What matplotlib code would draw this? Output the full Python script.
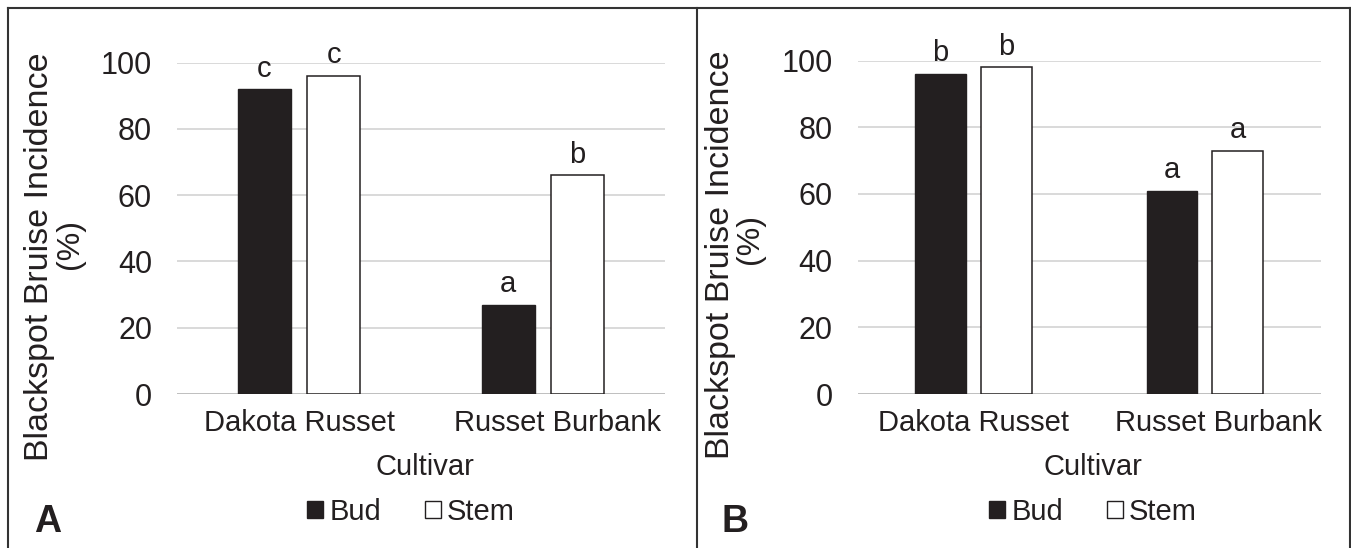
import numpy as np
import matplotlib
matplotlib.use("Agg")
import matplotlib.pyplot as plt
import matplotlib.transforms as mtransforms
from matplotlib.lines import Line2D
from matplotlib.patches import Patch

W, H = 1351, 548

cultivars = ["Dakota Russet", "Russet Burbank"]
series = ["Bud", "Stem"]

# panel A and B values (%)
bud_a = [92, 27]
stem_a = [96, 66]
letters_bud_a = ["c", "a"]
letters_stem_a = ["c", "b"]

bud_b = [96, 61]
stem_b = [98, 73]
letters_bud_b = ["b", "a"]
letters_stem_b = ["b", "a"]

yticks = [0, 20, 40, 60, 80, 100]

DARK = "#231f20"
GRID = "#d9d9d9"

plt.rcParams["font.family"] = ["Liberation Sans", "DejaVu Sans"]


def fx(x):
    return x / W


def fy(y):
    return 1 - y / H


def make_axes(fig, left, right, top, bottom):
    return fig.add_axes([fx(left), fy(bottom), (right - left) / W, (bottom - top) / H])


def draw_panel(ax, bud, stem, lb, ls):
    x = np.arange(len(cultivars))
    width = 0.22
    off = 0.142
    for yv in yticks:
        ax.axhline(yv, color="#bfbfbf" if yv == 0 else GRID, lw=1.4, zorder=0)
    b1 = ax.bar(x - off, bud, width, color=DARK, edgecolor=DARK, lw=1.0, zorder=2)
    b2 = ax.bar(x + off, stem, width, color="white", edgecolor=DARK, lw=1.1, zorder=2)
    for bars, labs in ((b1, lb), (b2, ls)):
        for rect, lab in zip(bars, labs):
            ax.annotate(lab, (rect.get_x() + rect.get_width() / 2, rect.get_height()),
                        xytext=(0, 9), textcoords="offset points",
                        ha="center", va="baseline", fontsize=21, color=DARK,
                        annotation_clip=False)
    ax.set_xlim(-0.5, len(cultivars) - 0.5)
    ax.set_ylim(0, 100)
    ax.set_yticks(yticks)
    ax.set_xticks(x)
    ax.set_xticklabels(cultivars, fontsize=21)
    ax.tick_params(axis="y", length=0, pad=18, labelsize=22, colors=DARK)
    ax.tick_params(axis="x", length=0, pad=11, colors=DARK)
    for s in ax.spines.values():
        s.set_visible(False)
    # second category label sits a bit right of centre in the original
    lab = ax.get_xticklabels()[1]
    lab.set_transform(lab.get_transform() + mtransforms.ScaledTranslation(0.14, 0, ax.figure.dpi_scale_trans))


fig = plt.figure(figsize=(W / 100, H / 100), dpi=100)

ax_a = make_axes(fig, 177, 665, 62.6, 394)
draw_panel(ax_a, bud_a, stem_a, letters_bud_a, letters_stem_a)
ax_b = make_axes(fig, 857.6, 1320.6, 60.5, 394)
draw_panel(ax_b, bud_b, stem_b, letters_bud_b, letters_stem_b)

# axis titles, panel letters and legends
for (yl1x, yl1y, yl2x, yl2y, cx, legx, px, plab) in [
    (48, 257, 78, 244, 425, 411, 48, "A"),
    (729, 255, 758, 239, 1093, 1093, 735, "B"),
]:
    fig.text(fx(yl1x), fy(yl1y), "Blackspot Bruise Incidence", rotation=90,
             rotation_mode="anchor", ha="center", va="baseline", fontsize=24.5, color=DARK)
    fig.text(fx(yl2x), fy(yl2y), "(%)", rotation=90,
             rotation_mode="anchor", ha="center", va="baseline", fontsize=23, color=DARK)
    fig.text(fx(cx), fy(475), "Cultivar", ha="center", va="baseline", fontsize=21, color=DARK)
    fig.text(fx(px), fy(531.5), plab, ha="center", va="baseline",
             fontsize=27, fontweight="bold", color=DARK)
    handles = [Patch(facecolor=DARK, edgecolor=DARK, lw=1.0),
               Patch(facecolor="white", edgecolor=DARK, lw=1.0)]
    fig.legend(handles, series, loc="center", bbox_to_anchor=(fx(legx), fy(512)),
               ncol=2, frameon=False, fontsize=21, handlelength=0.55, handleheight=0.55,
               handletextpad=0.2, columnspacing=1.5, borderpad=0, labelcolor=DARK)

# frame lines round the two panels
for xs, ys in [((8, 1350), (8, 8)), ((8, 8), (8, 548)),
               ((696.5, 696.5), (8, 548)), ((1349.5, 1349.5), (8, 548))]:
    fig.add_artist(Line2D([fx(v) for v in xs], [fy(v) for v in ys], color="#333333", lw=1.5))

fig.savefig("out.png", dpi=100)
